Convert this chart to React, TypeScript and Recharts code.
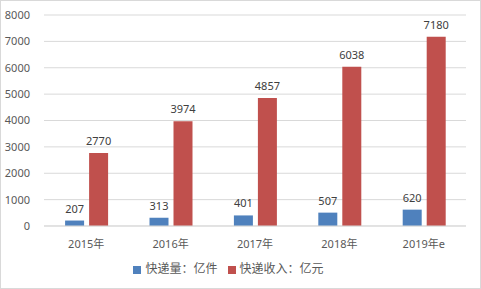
import { Bar, BarChart, CartesianGrid, LabelList, Legend, XAxis, YAxis } from "recharts";

const years = ["2015年", "2016年", "2017年", "2018年", "2019年e"];
const volume = [207, 313, 401, 507, 620];
const revenue = [2770, 3974, 4857, 6038, 7180];
const yTicks = [0, 1000, 2000, 3000, 4000, 5000, 6000, 7000, 8000];

const data = years.map((y, i) => ({ year: y, volume: volume[i], revenue: revenue[i] }));

const font = "'Noto Sans', 'Noto Sans CJK SC', sans-serif";

export default function App() {
    return (
        <div style={{
            position: 'absolute', left: 0, top: 0, width: 481, height: 289,
            boxSizing: 'border-box', border: '1px solid #d9d9d9', background: '#fff', fontFamily: font
        }}>
            <BarChart
                width={479}
                height={287}
                data={data}
                margin={{ top: 14, right: 14, left: 0, bottom: 11 }}
                barGap={5}
                barCategoryGap="25%"
            >
                <CartesianGrid vertical={false} stroke="#d9d9d9" />
                <XAxis
                    dataKey="year"
                    tickLine={false}
                    axisLine={{ stroke: '#d9d9d9' }}
                    tick={{ fill: '#595959', fontSize: 11 }}
                    tickMargin={8}
                    height={33}
                />
                <YAxis
                    domain={[0, 8000]}
                    ticks={yTicks}
                    width={43}
                    axisLine={false}
                    tickLine={false}
                    tick={{ fill: '#595959', fontSize: 11 }}
                    tickMargin={8}
                />
                <Legend
                    verticalAlign="bottom"
                    iconType="square"
                    iconSize={8}
                    itemSorter={null}
                    wrapperStyle={{ fontSize: 12, color: '#595959' }}
                    formatter={(v) => <span style={{ color: '#595959' }}>{v}</span>}
                />
                <Bar dataKey="volume" name="快递量：亿件" fill="#4f81bd" isAnimationActive={false}>
                    <LabelList dataKey="volume" position="top" offset={8} fill="#404040" fontSize={11} />
                </Bar>
                <Bar dataKey="revenue" name="快递收入：亿元" fill="#c0504d" isAnimationActive={false}>
                    <LabelList dataKey="revenue" position="top" offset={8} fill="#404040" fontSize={11} />
                </Bar>
            </BarChart>
        </div>
    );
}
